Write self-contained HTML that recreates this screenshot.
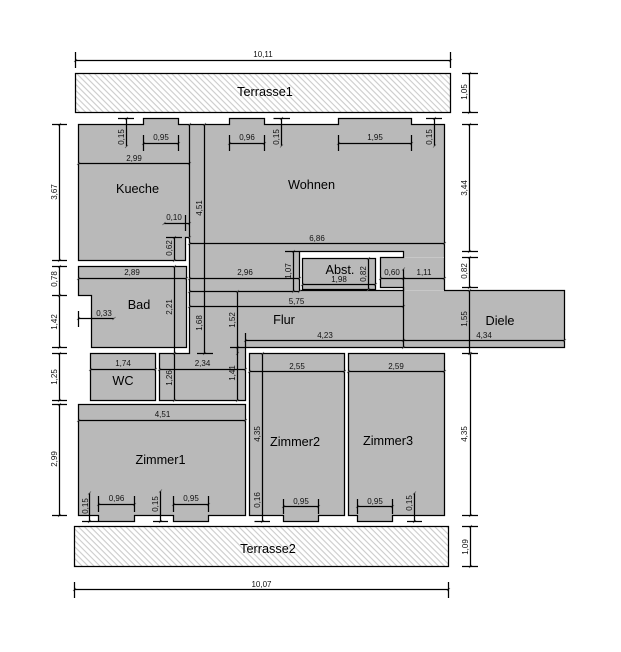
<!DOCTYPE html>
<html><head><meta charset="utf-8"><style>
html,body{margin:0;padding:0;background:#fff;width:621px;height:652px;overflow:hidden}
svg{display:block}
text{font-family:"Liberation Sans",Arial,sans-serif;fill:#000}
.l{font-size:12.7px;text-anchor:middle}
.d{font-size:8px;text-anchor:middle;fill:#111}
.r{fill:#b9b9b9;stroke:#000;stroke-width:1.25}
.g line,.g path{stroke:#000;stroke-width:1.25;fill:none}
.g line{marker-start:url(#t);marker-end:url(#t)}
</style></head><body>
<svg width="621" height="652" viewBox="0 0 621 652" xmlns="http://www.w3.org/2000/svg">
<defs>
<pattern id="h" width="4.2" height="4.2" patternUnits="userSpaceOnUse" patternTransform="rotate(45)"><rect width="4.2" height="4.2" fill="#fff"/><rect width="4.2" height="1" y="1.5" fill="#c6c6c6"/></pattern>
<marker id="t" markerUnits="userSpaceOnUse" markerWidth="6" markerHeight="6" refX="3" refY="3" orient="0"><path d="M1.5 4.5L4.5 1.5" stroke="#555" stroke-width=".7" fill="none"/></marker>
</defs>

<rect x="75.5" y="73.5" width="375" height="39" fill="url(#h)" stroke="#000" stroke-width="1.25"/>
<rect x="74.5" y="526.5" width="374" height="40" fill="url(#h)" stroke="#000" stroke-width="1.25"/>

<path class="r" fill-rule="evenodd" d="M78.5 124.5H143.5V118.5H178.5V124.5H229.5V118.5H264.5V124.5H338.5V118.5H411.5V124.5H444.5V290.5H564.5V347.5H245.5V400.5H159.5V353.5H189.5V237.5H185.5V260.5H78.5Z M299.5 251.5H403.5V257.5H380.5V287.5H403.5V290.5H299.5Z"/>
<rect x="404.5" y="257" width="39.5" height="1" fill="#c8c8c8"/>
<rect x="404.5" y="290" width="39.5" height="1" fill="#c8c8c8"/>
<rect class="r" x="302.5" y="258.5" width="73" height="31"/>
<path class="r" d="M78.5 266.5H186.5V347.5H91.5V295.5H78.5Z"/>
<rect class="r" x="90.5" y="353.5" width="65" height="47"/>
<path class="r" d="M78.5 404.5H245.5V515.5H208.5V521.5H173.5V515.5H134.5V521.5H98.5V515.5H78.5Z"/>
<path class="r" d="M249.5 353.5H344.5V515.5H318.5V521.5H283.5V515.5H249.5Z"/>
<path class="r" d="M348.5 353.5H444.5V515.5H392.5V521.5H357.5V515.5H348.5Z"/>

<g class="g">
<!-- horizontal dims -->
<line x1="75.5" y1="60.5" x2="450.5" y2="60.5"/><path d="M75.5 52V68M450.5 52V68"/>
<line x1="74.5" y1="589.5" x2="448.5" y2="589.5"/><path d="M74.5 582V598M448.5 582V598"/>
<line x1="143.5" y1="143.5" x2="178.5" y2="143.5"/><path d="M143.5 135V151M178.5 135V151"/>
<line x1="229.5" y1="143.5" x2="264.5" y2="143.5"/><path d="M229.5 135V151M264.5 135V151"/>
<line x1="338.5" y1="143.5" x2="411.5" y2="143.5"/><path d="M338.5 135V151M411.5 135V151"/>
<line x1="78.5" y1="163.5" x2="189.5" y2="163.5"/>
<line x1="164" y1="223.5" x2="189.5" y2="223.5"/><path d="M185.5 215V231"/>
<line x1="189.5" y1="243.5" x2="444.5" y2="243.5"/>
<line x1="78.5" y1="278.5" x2="186.5" y2="278.5"/>
<line x1="189.5" y1="278.5" x2="299.5" y2="278.5"/>
<line x1="380.5" y1="278.5" x2="403.5" y2="278.5"/>
<line x1="403.5" y1="278.5" x2="444.5" y2="278.5"/>
<line x1="302.5" y1="284.5" x2="375.5" y2="284.5"/>
<line x1="189.5" y1="291.5" x2="299.5" y2="291.5"/>
<line x1="189.5" y1="306.5" x2="403.5" y2="306.5"/>
<line x1="78.5" y1="318.5" x2="114" y2="318.5"/><path d="M78.5 311V327"/>
<line x1="245.5" y1="340.5" x2="403.5" y2="340.5"/><path d="M245.5 333V347"/>
<line x1="403.5" y1="340.5" x2="564.5" y2="340.5"/>
<line x1="90.5" y1="369.5" x2="155.5" y2="369.5"/>
<line x1="159.5" y1="369.5" x2="245.5" y2="369.5"/>
<line x1="249.5" y1="371.5" x2="344.5" y2="371.5"/>
<line x1="348.5" y1="371.5" x2="444.5" y2="371.5"/>
<line x1="78.5" y1="420.5" x2="245.5" y2="420.5"/>
<line x1="98.5" y1="504.5" x2="134.5" y2="504.5"/><path d="M98.5 496V512M134.5 496V512"/>
<line x1="173.5" y1="504.5" x2="208.5" y2="504.5"/><path d="M173.5 496V512M208.5 496V512"/>
<line x1="283.5" y1="506.5" x2="318.5" y2="506.5"/><path d="M283.5 499V514M318.5 499V514"/>
<line x1="357.5" y1="506.5" x2="392.5" y2="506.5"/><path d="M357.5 499V514M392.5 499V514"/>

<!-- vertical dims -->
<line x1="59.5" y1="124.5" x2="59.5" y2="260.5"/><path d="M52 124.5H67M52 260.5H67"/>
<line x1="59.5" y1="266.5" x2="59.5" y2="295.5"/><path d="M52 266.5H67M52 295.5H67"/>
<line x1="59.5" y1="295.5" x2="59.5" y2="347.5"/><path d="M52 347.5H67"/>
<line x1="59.5" y1="353.5" x2="59.5" y2="400.5"/><path d="M52 353.5H67M52 400.5H67"/>
<line x1="59.5" y1="404.5" x2="59.5" y2="515.5"/><path d="M52 404.5H67M52 515.5H67"/>
<line x1="469.5" y1="73.5" x2="469.5" y2="112.5"/><path d="M462 73.5H478M462 112.5H478"/>
<line x1="469.5" y1="124.5" x2="469.5" y2="251.5"/><path d="M462 124.5H478M462 251.5H478"/>
<line x1="469.5" y1="257.5" x2="469.5" y2="287.5"/><path d="M462 257.5H478M462 287.5H478"/>
<line x1="469.5" y1="290.5" x2="469.5" y2="353.5"/><path d="M462 353.5H478"/>
<line x1="470.5" y1="353.5" x2="470.5" y2="515.5"/><path d="M462 515.5H478"/>
<line x1="470.5" y1="526.5" x2="470.5" y2="566.5"/><path d="M462 526.5H478M462 566.5H478"/>
<line x1="126.5" y1="118.5" x2="126.5" y2="146.5"/><path d="M118 118.5H134"/>
<line x1="281.5" y1="118.5" x2="281.5" y2="146"/><path d="M273.5 118.5H290"/>
<line x1="434.5" y1="118.5" x2="434.5" y2="146"/><path d="M426 118.5H442"/>
<line x1="204.5" y1="124.5" x2="204.5" y2="353.5"/><path d="M197 353.5H213"/>
<line x1="189.5" y1="124.5" x2="189.5" y2="237.5"/>
<line x1="174.5" y1="237.5" x2="174.5" y2="260.5"/><path d="M166 237.5H182"/>
<line x1="174.5" y1="266.5" x2="174.5" y2="353.5"/>
<line x1="174.5" y1="353.5" x2="174.5" y2="400.5"/>
<line x1="237.5" y1="291.5" x2="237.5" y2="353.5"/>
<line x1="237.5" y1="347.5" x2="237.5" y2="400.5"/><path d="M230 347.5H245"/>
<line x1="293.5" y1="251.5" x2="293.5" y2="291.5"/><path d="M285 251.5H299"/>
<line x1="368.5" y1="258.5" x2="368.5" y2="289.5"/>
<line x1="403.5" y1="269" x2="403.5" y2="347.5"/>
<line x1="89.5" y1="493" x2="89.5" y2="521.5"/><path d="M82 521.5H98"/>
<line x1="160.5" y1="491" x2="160.5" y2="521.5"/><path d="M153 521.5H168"/>
<line x1="262.5" y1="353.5" x2="262.5" y2="521.5"/><path d="M254.5 521.5H270"/>
<line x1="414.5" y1="493" x2="414.5" y2="521.5"/><path d="M407 521.5H422"/>
</g>

<!-- room labels -->
<text class="l" x="265" y="96">Terrasse1</text>
<text class="l" x="268" y="553">Terrasse2</text>
<text class="l" x="137.5" y="193">Kueche</text>
<text class="l" x="311.5" y="189">Wohnen</text>
<text class="l" x="139" y="309">Bad</text>
<text class="l" x="123" y="385">WC</text>
<text class="l" x="284" y="324">Flur</text>
<text class="l" x="500" y="325">Diele</text>
<text class="l" x="340" y="274">Abst.</text>
<text class="l" x="160.5" y="464">Zimmer1</text>
<text class="l" x="295" y="446">Zimmer2</text>
<text class="l" x="388" y="445">Zimmer3</text>

<!-- horizontal dim text -->
<text class="d" x="263" y="57">10,11</text>
<text class="d" x="261.5" y="587">10,07</text>
<text class="d" x="161" y="140">0,95</text>
<text class="d" x="247" y="140">0,96</text>
<text class="d" x="375" y="140">1,95</text>
<text class="d" x="134" y="161">2,99</text>
<text class="d" x="174" y="220">0,10</text>
<text class="d" x="317" y="241">6,86</text>
<text class="d" x="132" y="275">2,89</text>
<text class="d" x="245" y="275">2,96</text>
<text class="d" x="392" y="275">0,60</text>
<text class="d" x="424" y="275">1,11</text>
<text class="d" x="339" y="282">1,98</text>
<text class="d" x="296.5" y="304">5,75</text>
<text class="d" x="104" y="316">0,33</text>
<text class="d" x="325" y="338">4,23</text>
<text class="d" x="484" y="338">4,34</text>
<text class="d" x="123" y="366">1,74</text>
<text class="d" x="202.5" y="366">2,34</text>
<text class="d" x="297" y="369">2,55</text>
<text class="d" x="396" y="369">2,59</text>
<text class="d" x="162.5" y="417">4,51</text>
<text class="d" x="116.5" y="501">0,96</text>
<text class="d" x="191" y="501">0,95</text>
<text class="d" x="301" y="504">0,95</text>
<text class="d" x="375" y="504">0,95</text>

<!-- vertical dim text -->
<text class="d" transform="translate(57 192) rotate(-90)">3,67</text>
<text class="d" transform="translate(57 279) rotate(-90)">0,78</text>
<text class="d" transform="translate(57 322) rotate(-90)">1,42</text>
<text class="d" transform="translate(57 377) rotate(-90)">1,25</text>
<text class="d" transform="translate(57 459) rotate(-90)">2,99</text>
<text class="d" transform="translate(467 92) rotate(-90)">1,05</text>
<text class="d" transform="translate(467 188) rotate(-90)">3,44</text>
<text class="d" transform="translate(467 271) rotate(-90)">0,82</text>
<text class="d" transform="translate(467 319) rotate(-90)">1,55</text>
<text class="d" transform="translate(467 434) rotate(-90)">4,35</text>
<text class="d" transform="translate(468 547) rotate(-90)">1,09</text>
<text class="d" transform="translate(124 137) rotate(-90)">0,15</text>
<text class="d" transform="translate(279 137) rotate(-90)">0,15</text>
<text class="d" transform="translate(432 137) rotate(-90)">0,15</text>
<text class="d" transform="translate(202 208) rotate(-90)">4,51</text>
<text class="d" transform="translate(172 248) rotate(-90)">0,62</text>
<text class="d" transform="translate(172 307) rotate(-90)">2,21</text>
<text class="d" transform="translate(172 378) rotate(-90)">1,26</text>
<text class="d" transform="translate(202 323) rotate(-90)">1,68</text>
<text class="d" transform="translate(235 320) rotate(-90)">1,52</text>
<text class="d" transform="translate(235 373) rotate(-90)">1,41</text>
<text class="d" transform="translate(291 271) rotate(-90)">1,07</text>
<text class="d" transform="translate(366 274) rotate(-90)">0,82</text>
<text class="d" transform="translate(88 506) rotate(-90)">0,15</text>
<text class="d" transform="translate(158 504) rotate(-90)">0,15</text>
<text class="d" transform="translate(260 434) rotate(-90)">4,35</text>
<text class="d" transform="translate(260 500) rotate(-90)">0,16</text>
<text class="d" transform="translate(412 503) rotate(-90)">0,15</text>
</svg>
</body></html>
